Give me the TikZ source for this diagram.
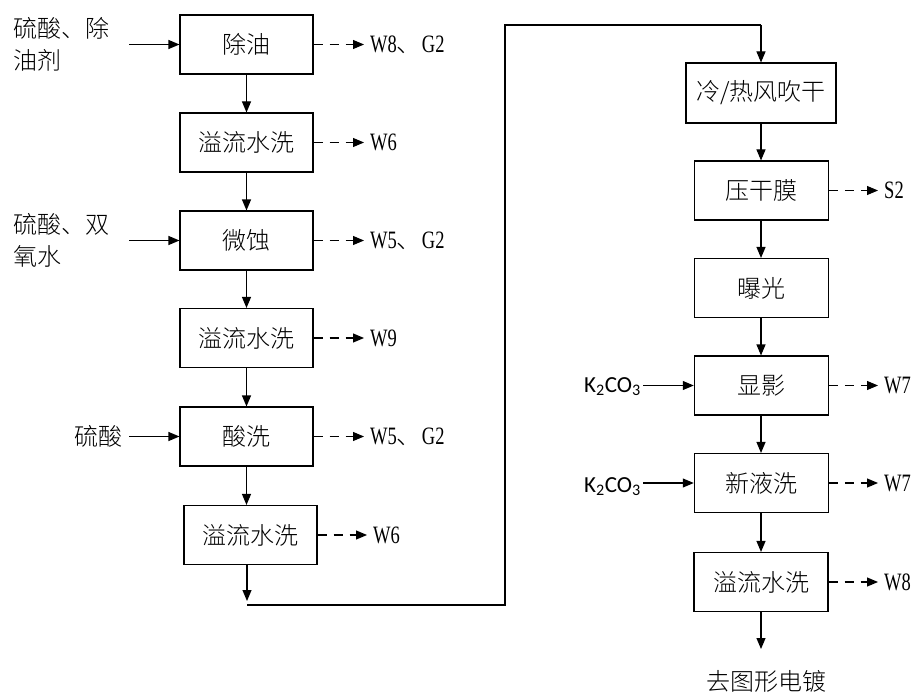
\documentclass[tikz,border=0pt]{standalone}
\usepackage{fontspec}
\setmainfont{Liberation Serif}[FakeStretch=0.74]
\newfontfamily\cjk{Noto Sans CJK SC Light}
\newfontfamily\calib{Carlito}
\usetikzlibrary{arrows.meta}
\tikzset{
  box/.style={draw, line width=1.1pt, minimum width=133pt, minimum height=59pt, inner sep=0pt, font=\cjk\fontsize{24}{28}\selectfont},
  flow/.style={line width=1.1pt, -{Triangle[length=11pt,width=9pt]}},
  plain/.style={line width=1.1pt},
  outflow/.style={line width=1.1pt, dash pattern=on 9pt off 7pt, -{Triangle[length=11pt,width=9pt]}},
  lbl/.style={inner sep=0pt, font=\fontsize{25}{28}\selectfont},
  clbl/.style={inner sep=0pt, font=\cjk\fontsize{24}{28}\selectfont},
  klbl/.style={inner sep=0pt, font=\calib\fontsize{23}{26}\selectfont}
}
\newcommand{\dun}{{\cjk 、}}
\begin{document}
\begin{tikzpicture}[x=1pt,y=-1pt]
\useasboundingbox (0,0) rectangle (912,695);
% left column
\node[box] (b1) at (246.5,44.5) {除油};
\node[box] (b2) at (246.5,142.5) {溢流水洗};
\node[box] (b3) at (246.5,240.5) {微蚀};
\node[box] (b4) at (246.5,338) {溢流水洗};
\node[box] (b5) at (246.5,436.5) {酸洗};
\node[box] (b6) at (250.5,535) {溢流水洗};
\draw[flow] (b1) -- (b2);
\draw[flow] (b2) -- (b3);
\draw[flow] (b3) -- (b4);
\draw[flow] (b4) -- (b5);
\draw[flow] (b5.south) -- (b5.south |- b6.north);
\coordinate (c1) at (247,601);
\coordinate (c2) at (247,605);
\coordinate (c3) at (505,605);
\coordinate (c4) at (505,25);
\coordinate (c5) at (761,25);
\draw[flow] (b6.south -| c1) -- (c1);
% right column
\node[box, minimum width=150pt, minimum height=60pt] (r1) at (761,93) {冷/热风吹干};
\node[box, minimum width=134pt] (r2) at (761.3,190.5) {压干膜};
\node[box, minimum width=134pt] (r3) at (761.3,288) {曝光};
\node[box, minimum width=134pt] (r4) at (761.3,385.5) {显影};
\node[box, minimum width=134pt] (r5) at (761.3,483) {新液洗};
\node[box, minimum width=134pt] (r6) at (761,582) {溢流水洗};
\node[clbl] (end) at (766,681) {去图形电镀};
\coordinate (e1) at (761,649);
\draw[plain] (c2) -- (c3) -- (c4) -- (c5);
\draw[flow] (c5) -- (r1.north -| c5);
\draw[flow] (r1.south -| c5) -- (r2.north -| c5);
\draw[flow] (r2.south -| c5) -- (r3.north -| c5);
\draw[flow] (r3.south -| c5) -- (r4.north -| c5);
\draw[flow] (r4.south -| c5) -- (r5.north -| c5);
\draw[flow] (r5.south -| c5) -- (r6.north -| c5);
\draw[flow] (r6.south -| c5) -- (e1);
% inputs left
\node[clbl, anchor=west] (i1a) at (13,28) {硫酸、除};
\node[clbl, anchor=west] (i1b) at (13,60) {油剂};
\node[clbl, anchor=west] (i2a) at (13,224) {硫酸、双};
\node[clbl, anchor=west] (i2b) at (13,256) {氧水};
\node[clbl, anchor=east] (i3) at (123,436.5) {硫酸};
\coordinate (s1) at (129,44.5);
\coordinate (s2) at (129,240.5);
\coordinate (s3) at (129,436.5);
\draw[flow] (s1) -- (b1.west);
\draw[flow] (s2) -- (b3.west);
\draw[flow] (s3) -- (b5.west);
% inputs right
\node[klbl, anchor=east] (k1) at (641,386.5) {K\textsubscript{2}CO\textsubscript{3}};
\node[klbl, anchor=east] (k2) at (641,486.5) {K\textsubscript{2}CO\textsubscript{3}};
\coordinate (s4) at (643,385.5);
\coordinate (s5) at (643,483);
\draw[flow] (s4) -- (r4.west);
\draw[flow] (s5) -- (r5.west);
% outputs left
\coordinate (o1) at (364,44.5);
\coordinate (o2) at (364,142.5);
\coordinate (o3) at (364,240.5);
\coordinate (o4) at (364,338);
\coordinate (o5) at (364,436.5);
\coordinate (o6) at (367,535);
\draw[outflow] (b1.east) -- (o1);
\draw[outflow] (b2.east) -- (o2);
\draw[outflow] (b3.east) -- (o3);
\draw[outflow] (b4.east) -- (o4);
\draw[outflow] (b5.east) -- (o5);
\draw[outflow] (b6.east) -- (o6);
\node[lbl, anchor=west] (t1) at (370,44.5) {W8\dun G2};
\node[lbl, anchor=west] (t2) at (370,142.5) {W6};
\node[lbl, anchor=west] (t3) at (370,240.5) {W5\dun G2};
\node[lbl, anchor=west] (t4) at (370,338) {W9};
\node[lbl, anchor=west] (t5) at (370,436.5) {W5\dun G2};
\node[lbl, anchor=west] (t6) at (373,535) {W6};
% outputs right
\coordinate (p2) at (878,190.5);
\coordinate (p4) at (878,385.5);
\coordinate (p5) at (878,483);
\coordinate (p6) at (878,582);
\draw[outflow] (r2.east) -- (p2);
\draw[outflow] (r4.east) -- (p4);
\draw[outflow] (r5.east) -- (p5);
\draw[outflow] (r6.east) -- (p6);
\node[lbl, anchor=west] (u2) at (884,190.5) {S2};
\node[lbl, anchor=west] (u4) at (884,385.5) {W7};
\node[lbl, anchor=west] (u5) at (884,483) {W7};
\node[lbl, anchor=west] (u6) at (884,582) {W8};
\end{tikzpicture}
\end{document}
